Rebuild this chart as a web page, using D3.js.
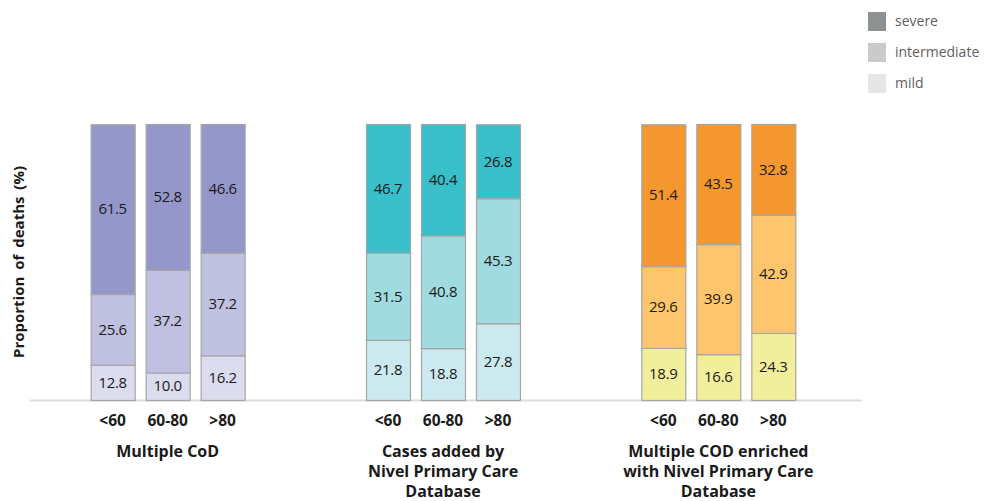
<!DOCTYPE html>
<html>
<head>
<meta charset="utf-8">
<script src="https://cdn.jsdelivr.net/npm/d3@7"></script>
<style>
  html, body { margin: 0; padding: 0; background: #fff; }
  svg { display: block; }
  text { font-family: "Open Sans", "Liberation Sans", sans-serif; }
</style>
</head>
<body>
<svg id="chart" width="984" height="501"></svg>
<script>
// Source groups and age bands
const groups = [
  ["Multiple CoD"],
  ["Cases added by", "Nivel Primary Care", "Database"],
  ["Multiple COD enriched", "with Nivel Primary Care", "Database"]
];
const ageBands = ["<60", "60-80", ">80"];
const severityLevels = ["mild", "intermediate", "severe"];

// Proportions (%) per group, one entry per age band
const mildValues = [
  [12.8, 10.0, 16.2],
  [21.8, 18.8, 27.8],
  [18.9, 16.6, 24.3]
];
const intermediateValues = [
  [25.6, 37.2, 37.2],
  [31.5, 40.8, 45.3],
  [29.6, 39.9, 42.9]
];
const severeValues = [
  [61.5, 52.8, 46.6],
  [46.7, 40.4, 26.8],
  [51.4, 43.5, 32.8]
];

// Palette per group: mild, intermediate, severe
const groupColors = [
  ["#dcdcef", "#c0c1e0", "#9597cb"],
  ["#cbe9ee", "#a0dbe0", "#38bfca"],
  ["#f2ef9c", "#fdc56c", "#f5972f"]
];
const legendColors = { severe: "#8e9192", intermediate: "#cacaca", mild: "#e6e6e6" };

const svg = d3.select("#chart");

const y = d3.scaleLinear().domain([0, 100]).range([400, 124]);
const xGroup = d3.scaleBand().domain(d3.range(groups.length)).range([30, 856]).paddingInner(0).paddingOuter(0);
const xBar = d3.scaleBand().domain(ageBands).range([0, 165]).paddingInner(0.2).paddingOuter(0.1);

// Baseline
svg.append("line")
  .attr("x1", 30).attr("x2", 862)
  .attr("y1", y(0) + 0.5).attr("y2", y(0) + 0.5)
  .attr("stroke", "#dcdcdc").attr("stroke-width", 2);

const stack = d3.stack().keys(severityLevels);

groups.forEach((g, gi) => {
  const rows = ageBands.map((a, ai) => ({
    age: a,
    mild: mildValues[gi][ai],
    intermediate: intermediateValues[gi][ai],
    severe: severeValues[gi][ai]
  }));
  const series = stack(rows);
  const gx = xGroup(gi) + (xGroup.bandwidth() - 165) / 2;
  const gEl = svg.append("g").attr("transform", `translate(${gx},0)`);

  series.forEach((s, si) => {
    s.forEach(d => {
      const x0 = xBar(d.data.age);
      gEl.append("rect")
        .attr("x", x0 + 0.5)
        .attr("y", y(d[1]) + 0.5)
        .attr("width", xBar.bandwidth())
        .attr("height", y(d[0]) - y(d[1]))
        .attr("fill", groupColors[gi][si])
        .attr("stroke", "#a6a6a6")
        .attr("stroke-width", 1.2);
      gEl.append("text")
        .attr("x", x0 + xBar.bandwidth() / 2)
        .attr("y", (y(d[0]) + y(d[1])) / 2)
        .attr("dy", "0.35em")
        .attr("text-anchor", "middle")
        .attr("font-size", 15)
        .attr("letter-spacing", -0.3)
        .attr("fill", "#1a1a1a")
        .text(d3.format(".1f")(d.data[s.key]));
    });
  });

  // Age band labels
  ageBands.forEach(a => {
    gEl.append("text")
      .attr("x", xBar(a) + xBar.bandwidth() / 2)
      .attr("y", 421)
      .attr("dy", "0.35em")
      .attr("text-anchor", "middle")
      .attr("font-size", 15.5)
      .attr("font-weight", 700)
      .attr("fill", "#1a1a1a")
      .text(a);
  });

  // Group name
  const t = gEl.append("text")
    .attr("text-anchor", "middle")
    .attr("font-size", 16)
    .attr("font-weight", 700)
    .attr("fill", "#1a1a1a");
  g.forEach((line, li) => {
    t.append("tspan")
      .attr("x", 165 / 2)
      .attr("y", 451 + li * 20)
      .attr("dy", "0.35em")
      .text(line);
  });
});

// Y axis title
svg.append("text")
  .attr("transform", "translate(19,262) rotate(-90)")
  .attr("text-anchor", "middle")
  .attr("dy", "0.35em")
  .attr("font-size", 15)
  .attr("font-weight", 700)
  .attr("word-spacing", 3)
  .attr("fill", "#1a1a1a")
  .text("Proportion of deaths (%)");

// Legend
const legendKeys = ["severe", "intermediate", "mild"];
const legend = svg.append("g").attr("transform", "translate(868,12)");
legendKeys.forEach((k, i) => {
  legend.append("rect")
    .attr("x", 0).attr("y", i * 31)
    .attr("width", 18).attr("height", 19)
    .attr("fill", legendColors[k]);
  legend.append("text")
    .attr("x", 27).attr("y", i * 31 + 9.5)
    .attr("dy", "0.35em")
    .attr("font-size", 14)
    .attr("fill", "#606060")
    .text(k);
});
</script>
</body>
</html>
